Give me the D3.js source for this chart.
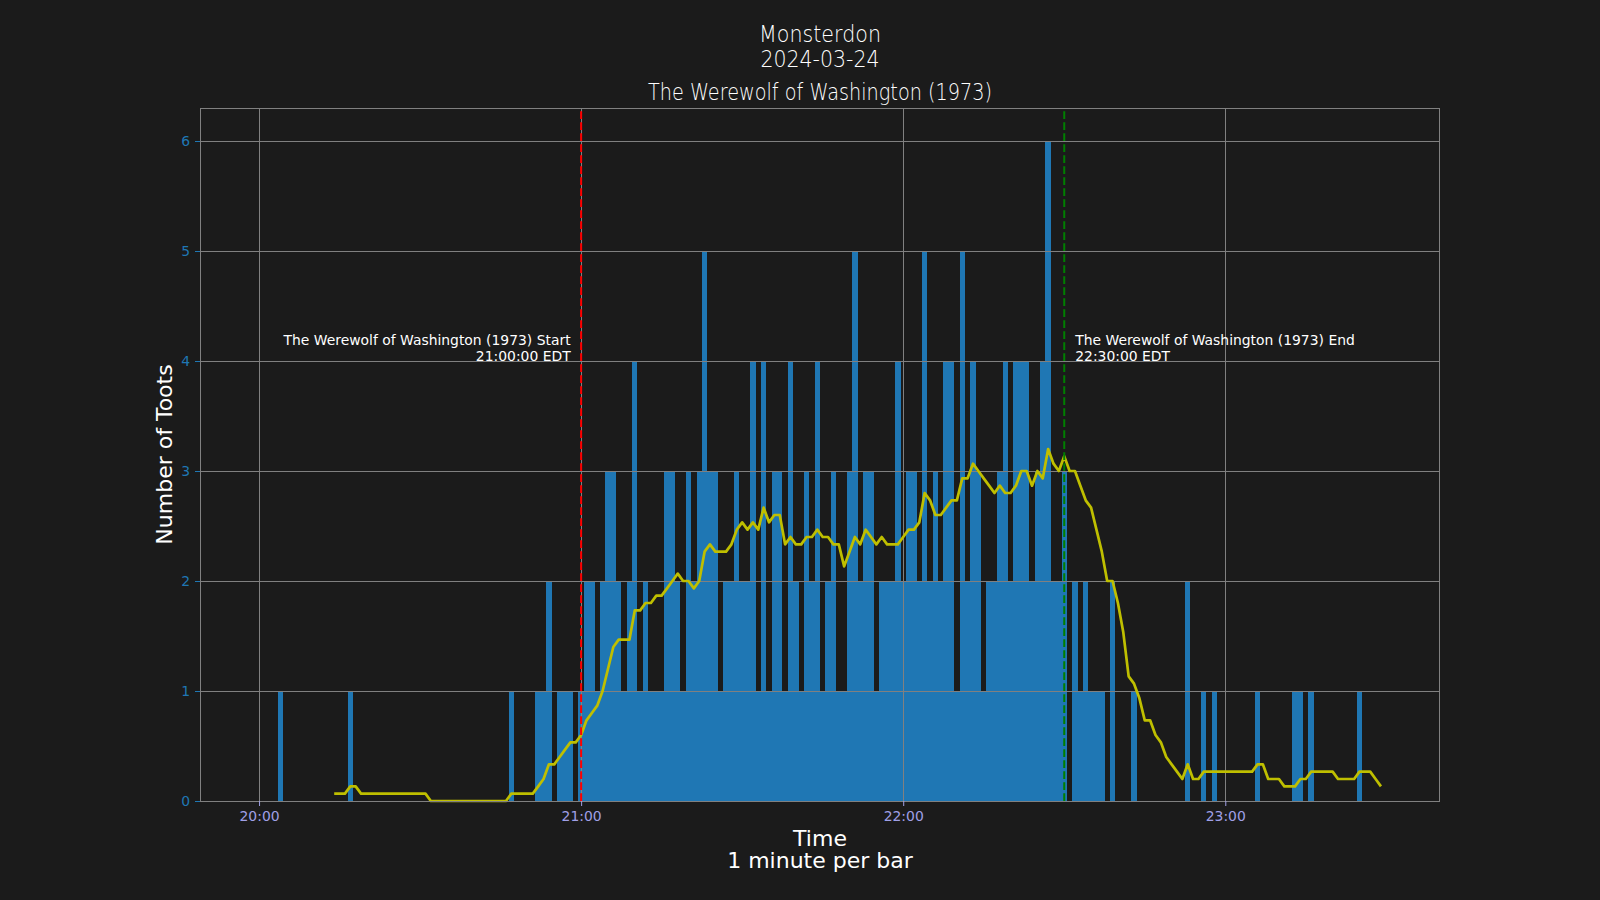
<!DOCTYPE html>
<html>
<head>
<meta charset="utf-8">
<script src="https://cdn.jsdelivr.net/npm/d3@7"></script>
<style>
  html, body { margin: 0; padding: 0; background: #1b1b1b; }
  svg { display: block; }
</style>
</head>
<body>
<svg id="chart" width="1600" height="900"></svg>
<script>
// ---------------- data ----------------
const titleLines = ["Monsterdon", "2024-03-24"];
const subTitle = "The Werewolf of Washington (1973)";
const startTime = "2024-03-24T20:00:00";   // first bar (one bar per minute)

// toots per minute, 20:00 – 20:59
const toots20h = [0,0,0,0,1,0,0,0,0,0, 0,0,0,0,0,0,0,1,0,0, 0,0,0,0,0,0,0,0,0,0,
                  0,0,0,0,0,0,0,0,0,0, 0,0,0,0,0,0,0,1,0,0, 0,0,1,1,2,0,1,1,1,0];
// 21:00 – 21:59
const toots21h = [1,2,2,1,2,3,3,2,1,2, 4,1,2,1,1,1,3,3,2,1, 3,2,3,5,3,3,1,2,2,3,
                  2,2,4,1,4,1,3,3,1,4, 2,1,3,2,4,1,2,3,1,1, 3,5,2,3,3,1,2,2,2,4];
// 22:00 – 22:59
const toots22h = [2,3,3,2,5,2,3,2,4,4, 1,5,2,4,3,1,2,2,3,4, 2,4,4,4,2,3,4,6,2,2,
                  3,0,2,1,2,1,1,1,0,2, 0,0,0,1,0,0,0,0,0,0, 0,0,0,2,0,0,1,0,1,0];
// 23:00 – 23:29
const toots23h = [0,0,0,0,0,0,1,0,0,0, 0,0,0,1,1,0,1,0,0,0, 0,0,0,0,0,1,0,0,0,0];

const rollingWindow = 15;  // minutes, for the moving-average line

const xTickLabels = ["20:00", "21:00", "22:00", "23:00"];
const yTicks = [0, 1, 2, 3, 4, 5, 6];

const eventNames  = ["The Werewolf of Washington (1973) Start", "The Werewolf of Washington (1973) End"];
const eventTimes  = ["21:00:00", "22:30:00"];
const eventLabels = ["21:00:00 EDT", "22:30:00 EDT"];
const eventColors = ["#ff0000", "#008000"];

// ---------------- build ----------------
const t0 = new Date(startTime);
const minute = 60000;
const counts = [].concat(toots20h, toots21h, toots22h, toots23h);
const bars = counts.map((v, i) => ({ t: new Date(+t0 + i * minute), v }));
// moving average over the last `rollingWindow` minutes (pandas rolling mean)
const rolling = [];
for (let i = rollingWindow - 1; i < counts.length; i++) {
  const s = d3.sum(counts.slice(i - rollingWindow + 1, i + 1));
  rolling.push({ t: bars[i].t, v: s / rollingWindow });
}
const toDate = hm => new Date("2024-03-24T" + hm);

const L = 200, R = 1440, T = 108, B = 801;
const first = bars[0].t, last = bars[bars.length - 1].t;
const span = (+last - +first) + minute;
const pad = span * 0.05;
const x = d3.scaleTime()
  .domain([new Date(+first - minute / 2 - pad), new Date(+last + minute / 2 + pad)])
  .range([L, R]);
const y = d3.scaleLinear().domain([0, 6.3]).range([B, T]);

const svg = d3.select("#chart");
svg.append("rect").attr("width", 1600).attr("height", 900).attr("fill", "#1b1b1b");

const FONT = "'DejaVu Sans', sans-serif";

// bars
svg.append("g").selectAll("rect")
  .data(bars.filter(d => d.v > 0))
  .join("rect")
  .attr("x", d => x(new Date(+d.t - minute / 2)))
  .attr("width", d => x(new Date(+d.t + minute / 2)) - x(new Date(+d.t - minute / 2)))
  .attr("y", d => y(d.v))
  .attr("height", d => y(0) - y(d.v))
  .attr("fill", "#1f77b4")
  .attr("shape-rendering", "crispEdges");

// grid (drawn above bars)
const xTickDates = xTickLabels.map(s => toDate(s + ":00"));
const grid = svg.append("g").attr("stroke", "#808080").attr("stroke-width", 1);
grid.selectAll("line.gx").data(xTickDates).join("line")
  .attr("x1", d => Math.round(x(d)) + 0.5).attr("x2", d => Math.round(x(d)) + 0.5)
  .attr("y1", T).attr("y2", B);
grid.selectAll("line.gy").data(yTicks).join("line")
  .attr("x1", L).attr("x2", R)
  .attr("y1", d => Math.round(y(d)) + 0.5).attr("y2", d => Math.round(y(d)) + 0.5);

// rolling mean line
svg.append("path")
  .datum(rolling)
  .attr("fill", "none")
  .attr("stroke", "#bfbf00")
  .attr("stroke-width", 2.7)
  .attr("stroke-linejoin", "round")
  .attr("d", d3.line().x(d => x(d.t)).y(d => y(d.v)));

// event lines and labels
eventTimes.forEach((et, i) => {
  const xv = x(toDate(et));
  svg.append("line")
    .attr("x1", xv).attr("x2", xv).attr("y1", B).attr("y2", T)
    .attr("stroke", eventColors[i]).attr("stroke-width", 2)
    .attr("stroke-dasharray", "7.7,3.3");
  const isStart = i === 0;
  const tx = isStart ? xv - 10.5 : xv + 11;
  const txt = svg.append("text")
    .attr("x", tx).attr("y", 345)
    .attr("fill", "#ffffff")
    .attr("font-family", FONT).attr("font-size", 13.9)
    .attr("text-anchor", isStart ? "end" : "start");
  txt.append("tspan").attr("x", tx).attr("y", 345).text(eventNames[i]);
  txt.append("tspan").attr("x", tx).attr("y", 361).text(eventLabels[i]);
});

// frame
svg.append("rect").attr("x", L + 0.5).attr("y", T + 0.5)
  .attr("width", R - L - 1).attr("height", B - T)
  .attr("fill", "none").attr("stroke", "#808080").attr("stroke-width", 1);

// x axis
const xAxis = d3.axisBottom(x).tickValues(xTickDates)
  .tickFormat(d3.timeFormat("%H:%M")).tickSize(5).tickPadding(5);
const gx = svg.append("g").attr("transform", `translate(0,${B})`).call(xAxis);
gx.select(".domain").remove();
gx.selectAll(".tick line").attr("stroke", "#a0a0e6");
gx.selectAll(".tick text").attr("fill", "#a0a0e6")
  .attr("font-family", FONT).attr("font-size", 13.9);

// y axis
const yAxis = d3.axisLeft(y).tickValues(yTicks).tickFormat(d3.format("d"))
  .tickSize(5).tickPadding(5);
const gy = svg.append("g").attr("transform", `translate(${L},0)`).call(yAxis);
gy.select(".domain").remove();
gy.selectAll(".tick line").attr("stroke", "#1f77b4");
gy.selectAll(".tick text").attr("fill", "#1f77b4")
  .attr("font-family", FONT).attr("font-size", 13.9);

// axis labels
svg.append("text")
  .attr("transform", "translate(172,454.5) rotate(-90)")
  .attr("text-anchor", "middle").attr("fill", "#ffffff")
  .attr("font-family", FONT).attr("font-size", 22)
  .text("Number of Toots");
const xl = svg.append("text").attr("text-anchor", "middle").attr("fill", "#ffffff")
  .attr("font-family", FONT).attr("font-size", 22);
xl.append("tspan").attr("x", 820).attr("y", 846).text("Time");
xl.append("tspan").attr("x", 820).attr("y", 868).text("1 minute per bar");

// titles
const titleFont = "'DejaVu Sans', sans-serif";
const titleSpecs = [
  { text: titleLines[0], y: 41.7, w: 122 },
  { text: titleLines[1], y: 66.7, w: 119 },
  { text: subTitle,      y: 100.3, w: 344 }
];
titleSpecs.forEach(s => {
  svg.append("text")
    .attr("x", 820).attr("y", s.y)
    .attr("text-anchor", "middle")
    .attr("fill", "#ffffff")
    .attr("font-family", titleFont).attr("font-weight", 200)
    .attr("font-size", 23)
    .attr("textLength", s.w).attr("lengthAdjust", "spacingAndGlyphs")
    .text(s.text);
});
</script>
</body>
</html>
